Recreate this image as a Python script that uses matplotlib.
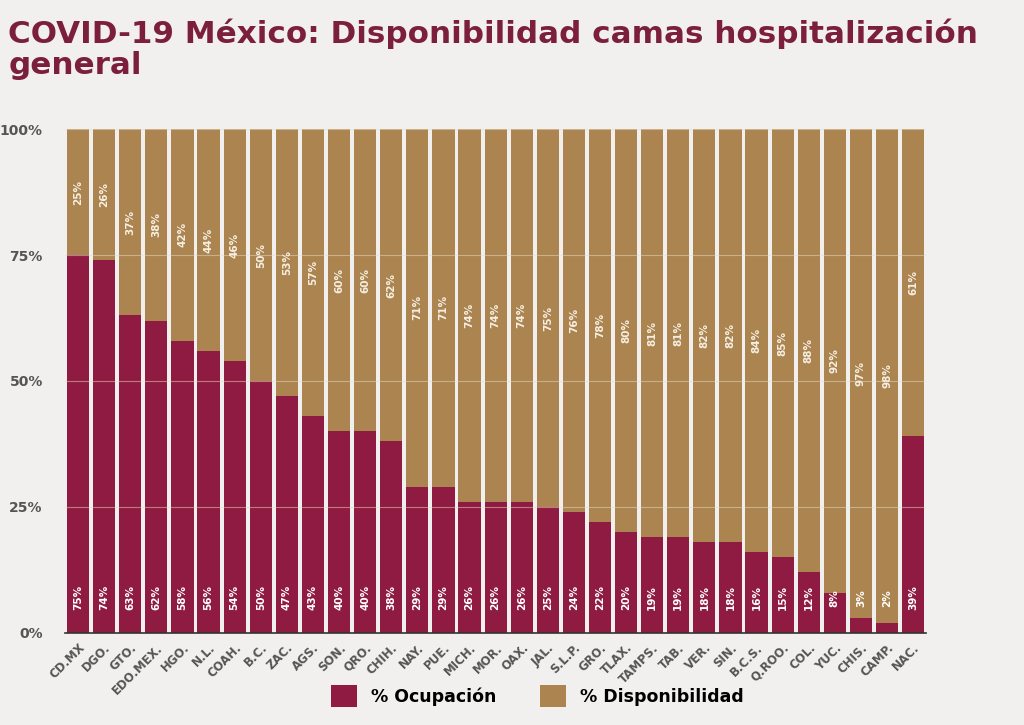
import matplotlib
matplotlib.use('Agg')
import matplotlib.pyplot as plt
from matplotlib.patches import Patch

# datos por entidad
estados = ['CD.MX', 'DGO.', 'GTO.', 'EDO.MEX.', 'HGO.', 'N.L.', 'COAH.', 'B.C.', 'ZAC.', 'AGS.',
           'SON.', 'QRO.', 'CHIH.', 'NAY.', 'PUE.', 'MICH.', 'MOR.', 'OAX.', 'JAL.', 'S.L.P.',
           'GRO.', 'TLAX.', 'TAMPS.', 'TAB.', 'VER.', 'SIN.', 'B.C.S.', 'Q.ROO.', 'COL.', 'YUC.',
           'CHIS.', 'CAMP.', 'NAC.']
ocupacion = [75, 74, 63, 62, 58, 56, 54, 50, 47, 43, 40, 40, 38, 29, 29, 26, 26, 26, 25, 24,
             22, 20, 19, 19, 18, 18, 16, 15, 12, 8, 3, 2, 39]
disponibilidad = [25, 26, 37, 38, 42, 44, 46, 50, 53, 57, 60, 60, 62, 71, 71, 74, 74, 74, 75, 76,
                  78, 80, 81, 81, 82, 82, 84, 85, 88, 92, 97, 98, 61]
yticks = [0, 25, 50, 75, 100]

c_ocu = '#901b42'
c_dis = '#ab8450'
c_tit = '#7c1f3e'
fondo = '#f1f0ee'

plt.rcParams['font.family'] = ['DejaVu Sans']

fig = plt.figure(figsize=(10.24, 7.25), dpi=100, facecolor=fondo)
ax = fig.add_axes([0.0635, 0.127, 0.841, 0.695])
ax.set_facecolor(fondo)

x = range(len(estados))
ax.bar(x, ocupacion, width=0.85, color=c_ocu, zorder=2)
ax.bar(x, disponibilidad, width=0.85, bottom=ocupacion, color=c_dis, zorder=2)

for i in x:
    ax.text(i, 7, '%d%%' % ocupacion[i], rotation=90, ha='center', va='center',
            color='white', fontsize=7.5, fontweight='bold', zorder=4)
    ax.text(i, ocupacion[i] + disponibilidad[i] / 2, '%d%%' % disponibilidad[i], rotation=90,
            ha='center', va='center', color='#f6efe2', fontsize=7.5, fontweight='bold', zorder=4)

for y in yticks[1:]:
    ax.axhline(y, color='#e8dcc6', linewidth=0.8, alpha=0.5, zorder=3)

ax.set_xlim(-0.5, len(estados) - 0.5)
ax.set_ylim(0, 100)
ax.set_yticks(yticks)
ax.set_yticklabels(['%d%%' % v for v in yticks], fontsize=10, fontweight='bold', color='#555555')
ax.set_xticks(list(x))
ax.set_xticklabels(estados, rotation=45, ha='right', rotation_mode='anchor',
                   fontsize=8.5, fontweight='bold', color='#555555')
ax.tick_params(axis='both', length=0)
ax.tick_params(axis='y', pad=16)
ax.tick_params(axis='x', pad=6)
for s in ['top', 'right', 'left']:
    ax.spines[s].set_visible(False)
ax.spines['bottom'].set_color('#333333')
ax.spines['bottom'].set_linewidth(1.2)
ax.spines['bottom'].set_zorder(5)

fig.text(0.008, 0.975, 'COVID-19 México: Disponibilidad camas hospitalización\ngeneral',
         ha='left', va='top', fontsize=22.3, fontweight='bold', color=c_tit, linespacing=1.1)

handles = [Patch(facecolor=c_ocu, label='% Ocupación'), Patch(facecolor=c_dis, label='% Disponibilidad')]
fig.legend(handles=handles, loc='center', bbox_to_anchor=(0.525, 0.04), ncol=2, frameon=False,
           prop={'weight': 'bold', 'size': 12.5}, handlelength=1.5, handleheight=1.5,
           columnspacing=2.5, handletextpad=0.8)

fig.savefig('out.png', dpi=100, facecolor=fondo)
